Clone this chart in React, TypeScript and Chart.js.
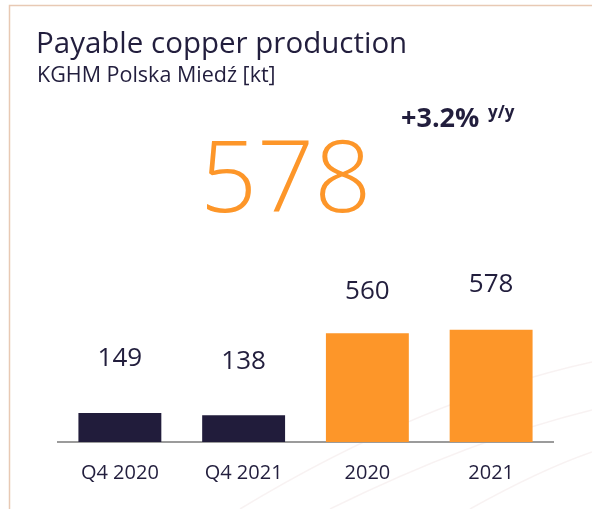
import React, { useEffect, useRef } from "react";
import { Chart, registerables } from "chart.js";

Chart.register(...registerables);

const categories = ["Q4 2020", "Q4 2021", "2020", "2021"];
const values = [149, 138, 560, 578];
const barColors = ["#211c3b", "#211c3b", "#fd9629", "#fd9629"];
const titleText = "Payable copper production";
const subtitleText = "KGHM Polska Miedź [kt]";
const headline = "578";
const changeText = "+3.2%";
const changeUnit = "y/y";

const DARK = "#221e3d";
const ORANGE = "#fd9629";
const FONT = "'Open Sans', 'Noto Sans', sans-serif";

const decorPlugin = {
  id: "decor",
  beforeDraw(chart: any) {
    const ctx = chart.ctx;
    ctx.save();
    ctx.fillStyle = "#ffffff";
    ctx.fillRect(0, 0, chart.width, chart.height);
    // faint background curves
    ctx.strokeStyle = "rgba(205,160,160,0.14)";
    ctx.lineWidth = 1.5;
    const curves = [
      [240, 509, 420, 400, 592, 362],
      [330, 509, 470, 440, 592, 410],
      [470, 509, 540, 470, 592, 452],
    ];
    for (const c of curves) {
      ctx.beginPath();
      ctx.moveTo(c[0], c[1]);
      ctx.quadraticCurveTo(c[2], c[3], c[4], c[5]);
      ctx.stroke();
    }
    // frame
    ctx.strokeStyle = "#e8c9b4";
    ctx.lineWidth = 1.5;
    ctx.beginPath();
    ctx.moveTo(592, 5.5);
    ctx.lineTo(9.5, 5.5);
    ctx.lineTo(9.5, 509);
    ctx.stroke();
    ctx.restore();
  },
  afterDraw(chart: any) {
    const ctx = chart.ctx;
    ctx.save();
    ctx.textBaseline = "alphabetic";
    ctx.textAlign = "left";
    ctx.fillStyle = DARK;
    ctx.font = `400 29.5px ${FONT}`;
    ctx.fillText(titleText, 36, 53);
    ctx.font = `400 21.5px ${FONT}`;
    ctx.fillText(subtitleText, 37, 82);
    ctx.font = `700 27px ${FONT}`;
    ctx.fillText(changeText, 401, 127);
    ctx.font = `700 17px ${FONT}`;
    ctx.fillText(changeUnit, 488, 118);
    ctx.fillStyle = ORANGE;
    ctx.font = `300 100px ${FONT}`;
    ctx.fillText(headline, 200, 212);
    ctx.restore();
  },
};

const labelOffsets = [55, 54, 42, 45];

const valueLabelPlugin = {
  id: "valueLabels",
  afterDatasetsDraw(chart: any) {
    const ctx = chart.ctx;
    const meta = chart.getDatasetMeta(0);
    ctx.save();
    ctx.fillStyle = DARK;
    ctx.font = `400 26px ${FONT}`;
    ctx.textAlign = "center";
    ctx.textBaseline = "middle";
    meta.data.forEach((bar: any, i: number) => {
      ctx.fillText(String(values[i]), bar.x, bar.y - labelOffsets[i]);
    });
    ctx.restore();
  },
};

export default function App() {
  const ref = useRef<HTMLCanvasElement | null>(null);
  useEffect(() => {
    if (!ref.current) return;
    const chart = new Chart(ref.current, {
      type: "bar",
      data: {
        labels: categories,
        datasets: [
          {
            data: values,
            backgroundColor: barColors,
            borderWidth: 0,
            categoryPercentage: 1,
            barPercentage: 0.67,
          },
        ],
      },
      options: {
        animation: false,
        responsive: false,
        devicePixelRatio: 1,
        layout: { padding: { left: 58, right: 39, top: 248, bottom: 5 } },
        plugins: {
          legend: { display: false },
          tooltip: { enabled: false },
          title: { display: false },
        },
        scales: {
          x: {
            grid: { display: false, drawTicks: false },
            border: { display: true, color: "#9b9b9b", width: 2 },
            ticks: {
              color: DARK,
              font: { family: FONT, size: 20 },
              padding: 19,
            },
          },
          y: {
            display: false,
            min: 0,
            max: 1000,
          },
        },
      },
      plugins: [decorPlugin, valueLabelPlugin],
    });
    return () => chart.destroy();
  }, []);
  return (
    <div style={{ position: "absolute", left: 0, top: 0, width: 592, height: 509 }}>
      <canvas ref={ref} width={592} height={509} style={{ width: 592, height: 509 }} />
    </div>
  );
}
